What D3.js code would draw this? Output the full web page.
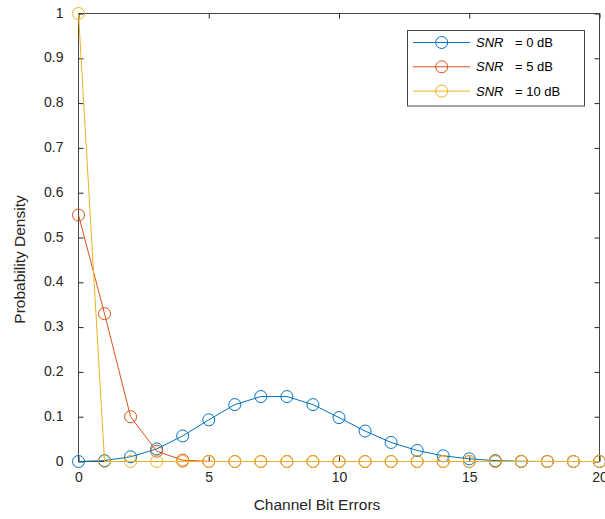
<!DOCTYPE html>
<html><head><meta charset="utf-8">
<script src="https://cdn.jsdelivr.net/npm/d3@7"></script>
<style>body{margin:0;background:#fff;} svg{display:block;font-family:"Liberation Sans",Arial,sans-serif;}</style>
</head><body><svg id="c" width="605" height="519"></svg>
<script>
const xValues = d3.range(0, 21);
const snr0 = [0, 0.002, 0.0105, 0.028, 0.057, 0.093, 0.127, 0.145, 0.145, 0.127, 0.098, 0.068, 0.0425, 0.0246, 0.0127, 0.006, 0.002, 0.0005, 0.0001, 0, 0];
const snr5 = [0.55, 0.33, 0.1, 0.023, 0.003, 0.0003, 0, 0, 0, 0, 0, 0, 0, 0, 0, 0, 0, 0, 0, 0, 0];
const snr10 = [1, 0, 0, 0, 0, 0, 0, 0, 0, 0, 0, 0, 0, 0, 0, 0, 0, 0, 0, 0, 0];
const seriesNames = ["0 dB", "5 dB", "10 dB"];
const colors = ["#0072BD", "#D95319", "#EDB120"];
const xTicks = [0, 5, 10, 15, 20];
const yTicks = [0, 0.1, 0.2, 0.3, 0.4, 0.5, 0.6, 0.7, 0.8, 0.9, 1];

const svg = d3.select("#c");
const L = 78.5, R = 599.5, T = 13.5, B = 461.5;
const x = d3.scaleLinear().domain([0, 20]).range([L, R]);
const y = d3.scaleLinear().domain([0, 1]).range([B, T]);
const axisCol = "#262626";

// box
svg.append("rect").attr("x", L).attr("y", T).attr("width", R - L).attr("height", B - T)
  .attr("fill", "none").attr("stroke", "#262626").attr("stroke-width", 1).attr("stroke-opacity", 0.85);

const fmt = d => d === 0 ? "0" : d === 1 ? "1" : d3.format(".1f")(d);

// axes
const xa = svg.append("g").attr("transform", `translate(0,${B})`)
  .call(d3.axisBottom(x).tickValues(xTicks).tickSize(-5).tickPadding(11).tickFormat(d3.format("d")));
const xt = svg.append("g").attr("transform", `translate(0,${T})`)
  .call(d3.axisTop(x).tickValues(xTicks).tickSize(-5).tickFormat(""));
const ya = svg.append("g").attr("transform", `translate(${L},0)`)
  .call(d3.axisLeft(y).tickValues(yTicks).tickSize(-5).tickPadding(15).tickFormat(fmt));
const yr = svg.append("g").attr("transform", `translate(${R},0)`)
  .call(d3.axisRight(y).tickValues(yTicks).tickSize(-5).tickFormat(""));
[xa, xt, ya, yr].forEach(g => {
  g.select(".domain").remove();
  g.selectAll("line").attr("stroke", axisCol);
  g.selectAll("text").attr("fill", axisCol).style("font-size", "14px").style("font-family", '"Liberation Sans",Arial,sans-serif');
});
ya.selectAll("text").attr("dy", "0.25em");

svg.append("text").attr("x", 317).attr("y", 510).attr("text-anchor", "middle")
  .attr("fill", axisCol).style("font-size", "15.5px").text("Channel Bit Errors");
svg.append("text").attr("transform", `translate(24.5,259.5) rotate(-90)`).attr("text-anchor", "middle")
  .attr("fill", axisCol).style("font-size", "15.5px").text("Probability Density");

const series = [snr0, snr5, snr10];
const line = d3.line().x((d, i) => x(xValues[i])).y(d => y(d));
series.forEach((s, k) => {
  const g = svg.append("g");
  g.append("path").attr("d", line(s)).attr("fill", "none").attr("stroke", colors[k]).attr("stroke-width", 1);
  g.selectAll("circle").data(s).enter().append("circle")
    .attr("cx", (d, i) => x(xValues[i])).attr("cy", d => y(d)).attr("r", 6)
    .attr("fill", "none").attr("stroke", colors[k]).attr("stroke-width", 1);
});

// legend
const lg = svg.append("g");
lg.append("rect").attr("x", 407.5).attr("y", 30.5).attr("width", 177).attr("height", 75.5)
  .attr("fill", "#fff").attr("stroke", "#262626").attr("stroke-opacity", 0.85);
seriesNames.forEach((n, k) => {
  const yy = 42.5 + k * 24.3;
  lg.append("line").attr("x1", 413).attr("x2", 470).attr("y1", yy).attr("y2", yy).attr("stroke", colors[k]);
  lg.append("circle").attr("cx", 441.7).attr("cy", yy).attr("r", 6).attr("fill", "none").attr("stroke", colors[k]);
  lg.append("text").attr("x", 476).attr("y", yy + 4.5).attr("fill", "#000").style("font-size", "13px")
    .style("font-style", "italic").text("SNR");
  lg.append("text").attr("x", 515).attr("y", yy + 4.5).attr("fill", "#000").style("font-size", "13px")
    .text("= " + n);
});
</script></body></html>
